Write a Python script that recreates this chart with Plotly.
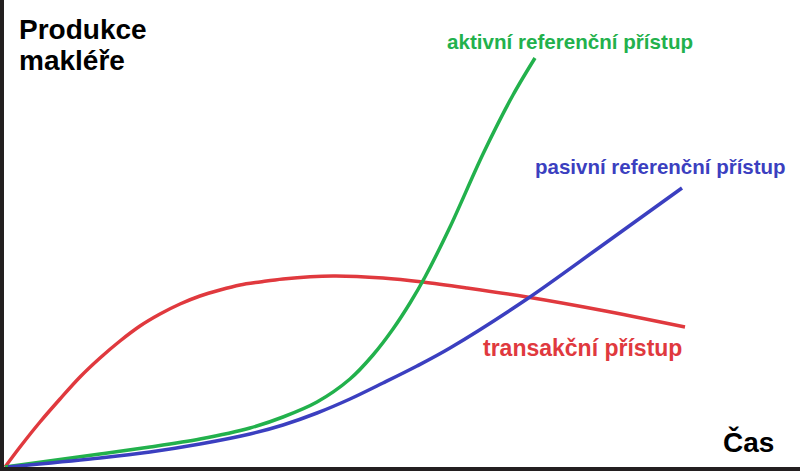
import plotly.graph_objects as go

# time axis / production values (chart units, origin bottom-left)
transakcni_x = [5, 20, 40, 60, 80, 100, 120, 140, 160, 180, 200, 220, 240, 260, 283, 333, 383, 423, 467, 527, 600, 685]
transakcni_y = [0, 20, 45, 68, 90, 109, 126, 141, 153, 163, 171, 177, 182, 185, 188, 191, 189, 185, 179, 170, 157, 140]

aktivni_x = [5, 100, 150, 200, 250, 283, 317, 350, 373, 393, 410, 425, 450, 483, 513, 535]
aktivni_y = [0, 13, 20, 28, 39, 50, 65, 88, 112, 138, 164, 190, 240, 313, 372, 409]

pasivni_x = [8, 100, 150, 200, 250, 283, 317, 350, 383, 417, 450, 527, 600, 682]
pasivni_y = [0, 9, 15, 23, 33, 42, 54, 68, 84, 101, 119, 168, 220, 279]

RED = "#e0393e"
GREEN = "#22b14c"
BLUE = "#3b3fc0"
AXIS = "#231f20"
FONT = "Liberation Sans, Arial, sans-serif"

fig = go.Figure()
for xs, ys, col in [(transakcni_x, transakcni_y, RED),
                    (aktivni_x, aktivni_y, GREEN),
                    (pasivni_x, pasivni_y, BLUE)]:
    fig.add_trace(go.Scatter(x=xs, y=ys, mode="lines",
                             line=dict(color=col, width=3.5, shape="spline", smoothing=0.9),
                             hoverinfo="skip"))

labels = [
    ("aktivní referenční přístup", 570, 426, GREEN, 20.6, "center"),
    ("pasivní referenční přístup", 660, 301, BLUE, 20.5, "center"),
    ("transakční přístup", 582, 119, RED, 23, "center"),
    ("Produkce", 17, 438, "black", 28, "left"),
    ("makléře", 17, 407, "black", 28, "left"),
    ("Čas", 748, 25, "black", 28, "center"),
]
for txt, x, y, col, size, anchor in labels:
    fig.add_annotation(x=x, y=y, text="<b>%s</b>" % txt, showarrow=False,
                       xanchor=anchor, yanchor="middle",
                       font=dict(family=FONT, size=size, color=col))

fig.update_xaxes(range=[4, 800], showgrid=False, zeroline=False, showticklabels=False,
                 ticks="", showline=True, linewidth=4, linecolor=AXIS)
fig.update_yaxes(range=[0, 467], showgrid=False, zeroline=False, showticklabels=False,
                 ticks="", showline=True, linewidth=4, linecolor=AXIS)

fig.update_layout(width=800, height=472, showlegend=False,
                  paper_bgcolor="white", plot_bgcolor="white",
                  margin=dict(l=4, r=0, t=0, b=5))

# page body has a default 8px margin; drop it so the chart sits at the corner
fig.write_html("out.html", config={"displayModeBar": False},
               post_script="document.body.style.margin='0';")
